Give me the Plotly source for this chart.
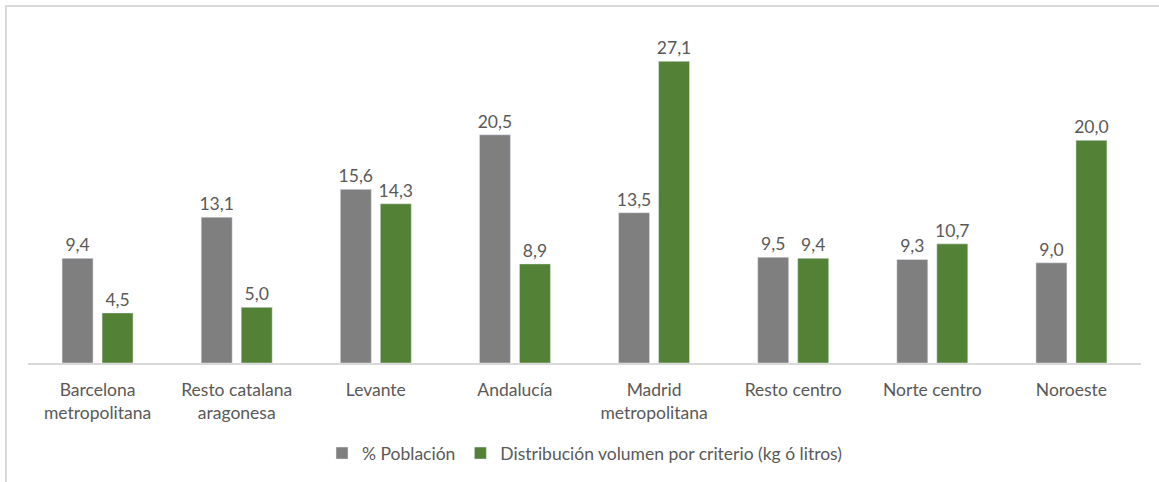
import plotly.graph_objects as go

categories = ["Barcelona<br>metropolitana", "Resto catalana<br>aragonesa", "Levante", "Andalucía",
              "Madrid<br>metropolitana", "Resto centro", "Norte centro", "Noroeste"]
poblacion = [9.4, 13.1, 15.6, 20.5, 13.5, 9.5, 9.3, 9.0]
volumen = [4.5, 5.0, 14.3, 8.9, 27.1, 9.4, 10.7, 20.0]
series_names = ["% Población", "Distribución volumen por criterio (kg ó litros)"]

def fmt(v):
    return f"{v:.1f}".replace(".", ",")

FONT = "Lato"
TXT = "#595959"
FS = 17.5

fig = go.Figure()
fig.add_trace(go.Bar(x=categories, y=poblacion, name=series_names[0], marker_color="#7f7f7f",
                     text=[fmt(v) for v in poblacion], textposition="outside", constraintext="none",
                     textfont=dict(color=TXT, size=FS, family=FONT), cliponaxis=False))
fig.add_trace(go.Bar(x=categories, y=volumen, name=series_names[1], marker_color="#538135",
                     text=[fmt(v) for v in volumen], textposition="outside", constraintext="none",
                     textfont=dict(color=TXT, size=FS, family=FONT), cliponaxis=False))

fig.update_layout(
    width=1159, height=482,
    margin=dict(l=28, r=18, t=29, b=119, autoexpand=False),
    plot_bgcolor="white", paper_bgcolor="white",
    barmode="group", bargap=0.425, bargroupgap=0.225,
    font=dict(family=FONT, color=TXT, size=FS),
    showlegend=True,
    legend=dict(orientation="h", x=0.5, xanchor="center", y=-0.27, yanchor="middle",
                font=dict(size=FS, color=TXT, family=FONT), traceorder="normal"),
    xaxis=dict(showline=True, linecolor="#d9d9d9", linewidth=1.5, ticks="", showgrid=False,
               automargin=False, ticklabelstandoff=10,
               tickfont=dict(size=FS, color=TXT, family=FONT), fixedrange=True),
    yaxis=dict(range=[0, 30], showgrid=False, showticklabels=False, zeroline=False,
               showline=False, ticks="", automargin=False, fixedrange=True),
)
fig.add_shape(type="rect", xref="paper", yref="paper",
              x0=(6 - 28) / 1113, x1=(1170 - 28) / 1113,
              y0=(363 - 495) / 334, y1=(363 - 6) / 334,
              line=dict(color="#d9d9d9", width=2), fillcolor="rgba(0,0,0,0)", layer="below")

fig.write_html("out.html", config={"displayModeBar": False},
               post_script="document.body.style.margin='0px';document.body.style.overflow='hidden';")
